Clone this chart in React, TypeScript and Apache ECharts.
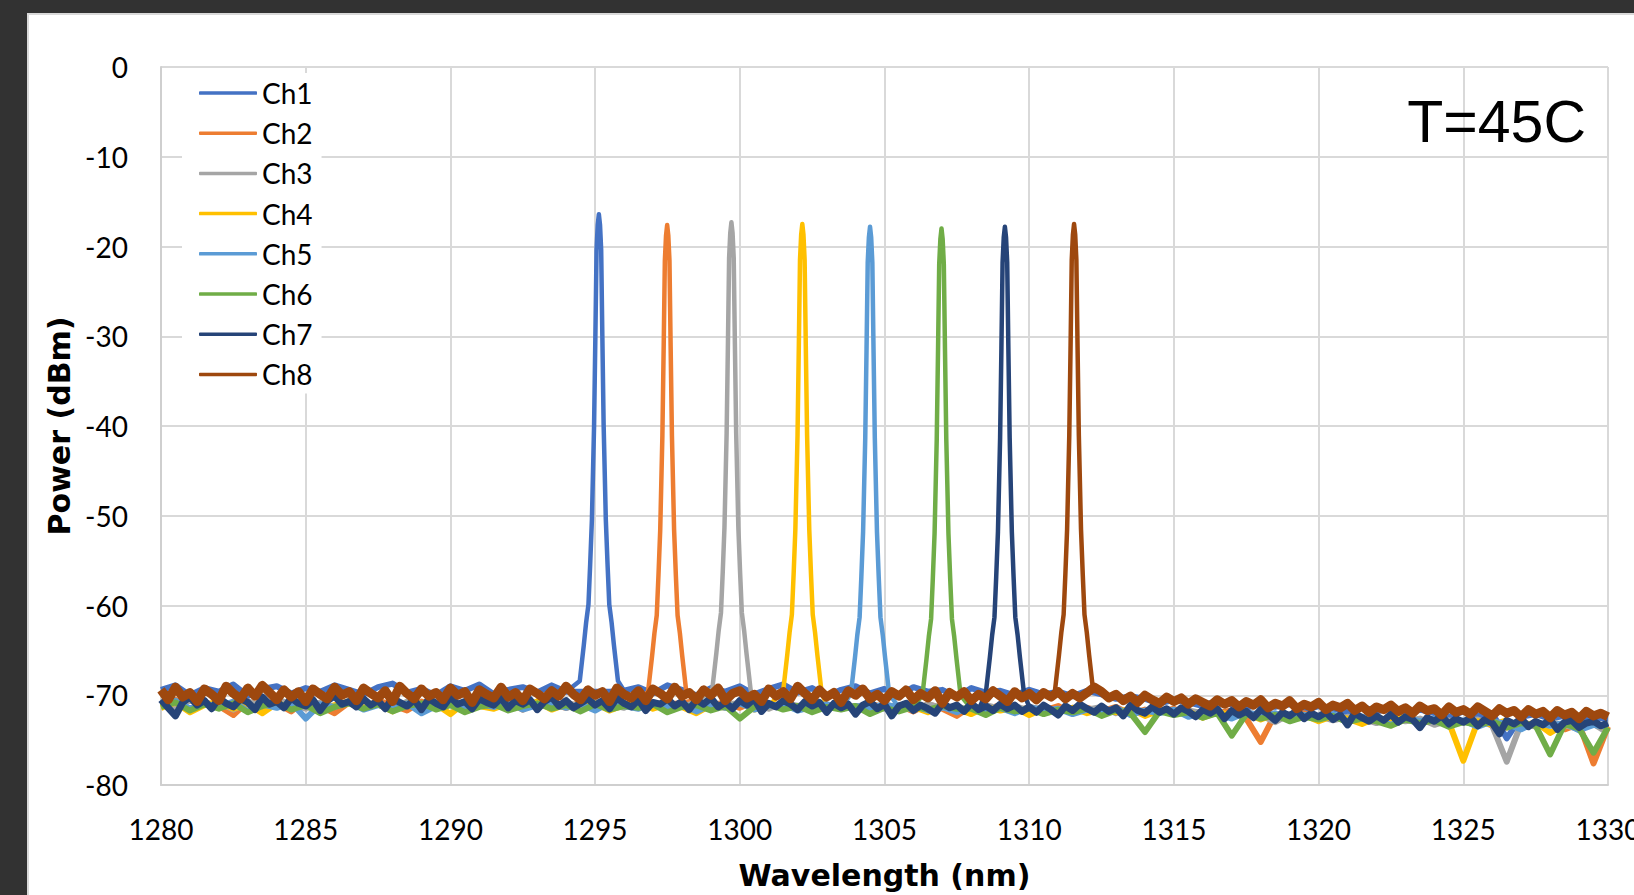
import React, { useEffect, useRef } from "react";
import * as echarts from "echarts";

// ---------- data ----------
const channelNames = ["Ch1", "Ch2", "Ch3", "Ch4", "Ch5", "Ch6", "Ch7", "Ch8"];
const channelColors = ["#4472C4", "#ED7D31", "#A5A5A5", "#FFC000", "#5B9BD5", "#70AD47", "#264478", "#9E480E"];

// peak centre wavelength (nm) and peak power (dBm) of each channel
const peakCenters = [1295.13, 1297.49, 1299.71, 1302.16, 1304.5, 1306.97, 1309.16, 1311.55];
const peakLevels = [-16.4, -17.6, -17.3, -17.5, -17.8, -18.0, -17.8, -17.5];

// shape of a peak: offset from centre (nm) and level relative to the peak (dB)
const peakOffsets = [-0.66, -0.52, -0.44, -0.36, -0.3, -0.24, -0.165, -0.12, -0.08, -0.04, 0, 0.04, 0.08, 0.12, 0.165, 0.24, 0.3, 0.36, 0.44, 0.52, 0.66];
const peakDrops = [-52, -48, -45.5, -43.5, -39, -34, -23.5, -13.5, -4, -1.2, 0, -1.2, -4, -13.5, -23.5, -34, -39, -43.5, -45.5, -48, -52];

// noise floor, sampled from 1280 nm with the step given per channel
const floorStart = 1280;
const floorSteps = [0.5, 0.5, 0.5, 0.5, 0.5, 0.5, 0.25, 0.25];

const floorCh1 = [
  -69.4, -68.9, -70.0, -69.2, -69.6, -68.8, -70.1, -69.3, -69.0, -69.8,
  -69.2, -69.6, -68.9, -69.4, -69.9, -69.1, -68.7, -69.7, -69.3, -70.0,
  -69.0, -69.5, -68.8, -69.9, -69.4, -69.1, -69.7, -68.9, -69.6, -69.6,
  -69.6, -69.6, -69.5, -69.1, -69.8, -68.9, -69.4, -70.0, -69.2, -69.6,
  -69.0, -69.9, -69.3, -68.8, -69.7, -69.2, -70.1, -69.4, -69.0, -69.8,
  -69.3, -70.0, -69.1, -69.6, -69.4, -70.2, -69.2, -69.7, -69.5, -70.0,
  -69.4, -69.9, -69.6, -70.1, -69.5, -69.9, -70.4, -70.1, -70.4, -70.9,
  -70.5, -70.8, -71.2, -70.6, -71.0, -71.4, -70.9, -71.3, -71.0, -71.7,
  -71.2, -71.5, -71.9, -71.3, -71.8, -71.5, -72.2, -71.6, -72.0, -72.4,
  -71.8, -72.3, -72.0, -74.8, -72.4, -72.1, -72.6, -72.3, -72.9, -72.5,
  -72.6,
];
const floorCh2 = [
  -71.0, -70.5, -71.6, -70.8, -71.2, -72.2, -70.7, -71.3, -70.9, -71.8,
  -70.6, -71.2, -72.0, -70.8, -71.4, -70.6, -71.1, -71.7, -70.7, -71.3,
  -70.9, -71.5, -70.6, -71.2, -70.8, -71.6, -70.7, -71.0, -71.4, -70.8,
  -71.2, -70.5, -71.0, -70.7, -70.9, -71.0, -70.9, -70.6, -71.1, -70.8,
  -71.4, -70.7, -71.2, -70.9, -71.6, -70.8, -71.3, -71.0, -71.5, -70.9,
  -71.4, -71.1, -71.8, -71.0, -71.5, -72.3, -71.2, -71.6, -71.1, -71.9,
  -71.3, -71.7, -71.2, -72.0, -71.4, -71.8, -71.3, -72.1, -71.6, -71.9,
  -71.5, -72.2, -71.8, -72.0, -71.7, -72.6, -75.2, -72.1, -72.5, -72.0,
  -72.7, -72.2, -72.9, -72.4, -72.8, -73.3, -72.6, -73.0, -72.7, -73.4,
  -72.9, -73.2, -72.8, -73.6, -73.0, -73.4, -73.1, -73.8, -73.2, -77.6,
  -73.5,
];
const floorCh3 = [
  -70.9, -71.4, -70.6, -71.1, -70.8, -71.6, -70.7, -71.2, -70.5, -71.0,
  -71.5, -70.8, -71.3, -70.6, -71.1, -70.9, -71.7, -70.7, -71.2, -70.8,
  -71.0, -71.4, -70.6, -71.1, -70.9, -71.5, -70.7, -71.2, -70.8, -71.3,
  -70.6, -71.0, -71.4, -70.7, -71.2, -70.9, -71.3, -70.8, -71.1, -71.0,
  -70.9, -70.9, -71.5, -70.8, -71.2, -70.9, -71.6, -71.0, -71.3, -70.9,
  -71.5, -71.1, -71.7, -71.0, -71.4, -71.2, -71.8, -71.1, -71.5, -71.2,
  -71.7, -71.3, -71.9, -71.4, -71.6, -71.3, -72.0, -71.5, -71.8, -71.6,
  -72.1, -71.7, -72.0, -71.8, -72.4, -71.9, -72.2, -73.0, -72.1, -72.5,
  -72.3, -72.8, -72.4, -72.6, -73.1, -72.5, -72.9, -72.6, -73.3, -72.8,
  -73.0, -72.7, -73.4, -77.4, -73.1, -73.5, -73.0, -73.3, -73.8, -73.2,
  -74.2,
];
const floorCh4 = [
  -71.4, -70.8, -71.9, -71.1, -70.7, -71.5, -71.0, -72.0, -70.9, -71.3,
  -70.8, -71.6, -71.1, -70.7, -71.4, -71.0, -71.8, -70.9, -71.3, -71.0,
  -72.1, -70.8, -71.2, -71.5, -70.9, -71.3, -70.7, -71.6, -71.0, -71.4,
  -70.9, -71.7, -71.1, -70.8, -71.5, -71.0, -71.3, -72.0, -71.1, -71.4,
  -70.9, -71.6, -71.2, -71.0, -71.3, -70.9, -71.2, -71.5, -71.2, -71.8,
  -71.0, -71.6, -71.3, -71.9, -71.2, -71.5, -72.1, -71.3, -71.7, -71.4,
  -72.2, -71.5, -71.8, -71.4, -72.0, -71.6, -71.9, -71.5, -72.3, -71.7,
  -72.0, -71.8, -72.5, -71.9, -72.2, -72.0, -72.7, -72.1, -72.4, -72.2,
  -72.9, -72.3, -72.6, -73.2, -72.5, -72.8, -72.4, -73.1, -72.7, -73.0,
  -77.3, -72.9, -73.3, -72.8, -73.5, -73.0, -74.2, -73.2, -73.6, -73.1,
  -73.8,
];
const floorCh5 = [
  -71.1, -70.6, -71.5, -70.9, -71.3, -70.7, -71.8, -71.0, -71.4, -70.8,
  -72.6, -71.0, -71.3, -70.8, -71.6, -71.1, -71.4, -70.9, -72.0, -71.2,
  -70.8, -71.5, -71.0, -71.3, -70.7, -71.6, -71.1, -70.9, -71.4, -71.0,
  -71.7, -70.8, -71.2, -71.5, -70.9, -71.3, -71.0, -71.8, -71.1, -71.4,
  -70.9, -71.6, -71.2, -71.0, -71.7, -71.3, -71.0, -71.5, -71.2, -71.4,
  -71.0, -71.4, -71.1, -71.7, -71.3, -71.9, -71.2, -71.6, -71.4, -72.0,
  -71.3, -71.7, -71.5, -72.1, -71.6, -71.9, -71.4, -72.2, -71.7, -72.0,
  -71.6, -72.4, -71.9, -72.1, -72.6, -71.9, -72.3, -72.0, -72.8, -72.2,
  -72.5, -72.1, -72.9, -72.4, -72.7, -73.3, -72.5, -72.9, -72.6, -73.2,
  -72.8, -73.5, -72.9, -73.2, -73.8, -73.0, -73.4, -73.1, -73.9, -73.3,
  -73.6,
];
const floorCh6 = [
  -71.3, -70.8, -71.7, -71.0, -71.5, -70.9, -71.9, -71.2, -70.8, -71.6,
  -71.1, -72.0, -71.3, -70.9, -71.5, -71.0, -71.8, -71.2, -70.9, -71.6,
  -71.1, -71.9, -71.3, -71.0, -71.7, -71.2, -70.9, -71.5, -71.1, -71.8,
  -71.0, -71.6, -71.2, -71.4, -71.0, -71.9, -71.3, -71.1, -71.7, -71.2,
  -72.6, -71.3, -71.0, -71.6, -71.2, -71.9, -71.3, -71.6, -71.2, -72.1,
  -71.4, -71.8, -71.3, -71.6, -71.2, -71.5, -71.5, -72.2, -71.4, -71.8,
  -71.5, -72.1, -71.6, -71.9, -71.5, -72.3, -71.7, -72.0, -74.1, -71.8,
  -72.2, -71.9, -72.5, -72.0, -74.5, -72.1, -72.6, -72.2, -72.9, -72.4,
  -72.7, -72.3, -73.0, -72.6, -72.9, -73.4, -72.7, -73.1, -72.8, -73.5,
  -73.0, -73.3, -72.9, -73.6, -73.1, -73.4, -76.6, -73.2, -73.7, -76.4,
  -73.6,
];
// Ch7 and Ch8 every 0.25 nm (201 values each)
const floorCh7 = [
  -70.5, -71.4, -72.3, -70.8, -70.2, -71.1, -70.6, -71.5, -70.3, -70.9,
  -71.3, -70.4, -70.8, -71.6, -70.2, -71.0, -70.7, -71.4, -70.3, -70.9,
  -71.2, -70.5, -71.7, -70.6, -70.1, -71.0, -70.7, -71.3, -70.4, -71.1,
  -70.6, -71.5, -70.3, -70.8, -71.2, -70.5, -71.6, -70.4, -70.9, -71.3,
  -70.2, -71.0, -70.7, -71.5, -70.4, -70.8, -71.1, -70.3, -71.4, -70.6,
  -71.0, -70.5, -71.6, -70.7, -70.2, -71.2, -70.6, -71.4, -70.9, -70.4,
  -71.1, -70.6, -71.5, -70.3, -70.9, -71.3, -70.5, -71.7, -70.8, -71.0,
  -70.4, -71.2, -70.7, -71.6, -70.5, -71.0, -70.3, -71.3, -70.8, -71.5,
  -70.6, -71.1, -70.4, -71.8, -70.9, -71.3, -70.6, -71.0, -71.6, -70.7,
  -71.2, -70.8, -71.9, -70.9, -71.4, -71.0, -72.1, -71.1, -70.7, -71.5,
  -71.0, -72.3, -71.2, -70.9, -71.7, -71.1, -71.5, -72.0, -70.9, -71.4,
  -71.1, -71.8, -70.9, -71.6, -71.2, -71.7, -71.0, -71.5, -71.1, -71.8,
  -71.3, -71.9, -71.1, -71.6, -72.2, -71.2, -71.7, -71.0, -71.5, -71.9,
  -71.2, -71.8, -71.4, -72.3, -71.1, -71.7, -72.0, -71.3, -71.9, -71.5,
  -72.1, -71.4, -71.8, -72.4, -71.6, -72.0, -71.5, -72.6, -71.7, -72.2,
  -71.8, -72.5, -71.6, -72.1, -72.8, -71.9, -72.3, -71.7, -72.6, -72.0,
  -72.4, -71.9, -72.7, -72.2, -73.3, -72.0, -72.5, -72.9, -72.3, -72.8,
  -72.1, -73.0, -72.4, -72.7, -73.6, -72.5, -72.9, -72.3, -73.2, -72.6,
  -73.0, -72.5, -73.4, -72.7, -73.1, -74.3, -72.8, -73.2, -72.6, -73.5,
  -72.9, -73.3, -72.7, -73.8, -73.0, -72.8, -73.6, -73.1, -72.9, -73.4,
  -73.1,
];
const floorCh8 = [
  -69.4, -70.5, -69.1, -70.2, -69.7, -70.7, -69.3, -69.9, -70.6, -69.0,
  -69.8, -70.4, -69.2, -70.1, -68.9, -69.7, -70.5, -69.4, -70.2, -69.6,
  -70.7, -69.3, -69.9, -70.4, -69.1, -70.0, -69.6, -70.6, -69.2, -69.8,
  -70.3, -69.5, -70.7, -69.0, -69.8, -70.4, -69.3, -70.1, -69.7, -70.5,
  -69.2, -70.0, -69.6, -70.8, -69.4, -69.9, -70.3, -69.1, -70.2, -69.7,
  -70.6, -69.3, -69.8, -70.4, -69.5, -70.1, -69.0, -69.9, -70.5, -69.4,
  -70.0, -69.6, -70.7, -69.2, -69.9, -70.3, -69.5, -70.6, -69.3, -69.8,
  -70.4, -69.1, -70.1, -69.7, -70.5, -69.4, -70.0, -69.2, -70.6, -69.8,
  -69.5, -70.3, -69.9, -70.7, -69.3, -70.1, -69.6, -70.4, -69.0, -69.8,
  -70.5, -69.4, -70.2, -69.7, -70.8, -69.5, -70.0, -69.3, -70.4, -69.9,
  -70.6, -69.6, -70.1, -69.4, -70.5, -69.8, -70.3, -69.5, -70.9, -69.7,
  -70.2, -69.6, -70.6, -69.9, -70.4, -69.5, -70.1, -70.7, -69.6, -70.3,
  -69.8, -70.5, -69.7, -70.2, -69.6, -70.4, -69.8, -70.3, -69.7, -69.1,
  -69.6, -70.3, -69.9, -70.6, -70.1, -70.8, -70.0, -70.5, -70.9, -70.2,
  -70.7, -70.3, -71.0, -70.4, -70.8, -71.2, -70.5, -71.0, -70.6, -71.3,
  -70.7, -71.1, -70.5, -71.4, -70.9, -71.2, -70.6, -71.5, -71.0, -71.3,
  -70.8, -71.6, -71.1, -71.4, -70.9, -71.7, -71.2, -71.9, -71.3, -71.6,
  -71.1, -71.8, -71.4, -72.0, -71.2, -71.7, -71.5, -72.2, -71.3, -71.9,
  -71.6, -72.1, -71.3, -71.8, -72.3, -71.5, -72.0, -71.7, -72.4, -71.6,
  -72.1, -71.8, -72.5, -71.7, -72.2, -71.9, -72.6, -71.8, -72.3, -72.0,
  -72.4,
];
const floors = [floorCh1, floorCh2, floorCh3, floorCh4, floorCh5, floorCh6, floorCh7, floorCh8];

// axes
const xMin = 1280;
const xMax = 1330;
const xInterval = 5;
const yMin = -80;
const yMax = 0;
const yInterval = 10;

const annotation = "T=45C";
const xTitle = "Wavelength (nm)";
const yTitle = "Power (dBm)";

// ---------- build series ----------
function buildFloor(k: number): number[][] {
  const step = floorSteps[k];
  return floors[k].map((v, i) => [floorStart + i * step, v]);
}

function buildPeak(k: number): number[][] {
  const c = peakCenters[k];
  const fl = buildFloor(k);
  let left = fl[0];
  let right = fl[fl.length - 1];
  for (const p of fl) {
    if (p[0] <= c - 0.72) left = p;
  }
  for (let i = fl.length - 1; i >= 0; i--) {
    if (fl[i][0] >= c + 0.72) right = fl[i];
  }
  const pts: number[][] = [left];
  peakOffsets.forEach((o, j) => pts.push([c + o, peakLevels[k] + peakDrops[j]]));
  pts.push(right);
  return pts;
}

const floorWidths = [6, 6, 6, 6, 6, 6, 7, 9];

export default function App() {
  const ref = useRef<HTMLDivElement>(null);

  useEffect(() => {
    if (!ref.current) return;
    const chart = echarts.init(ref.current, undefined, { renderer: "svg" });
    const series: any[] = [];
    channelNames.forEach((name, k) => {
      const common = {
        name,
        type: "line",
        symbol: "none",
        showSymbol: false,
        color: channelColors[k],
        itemStyle: { color: channelColors[k] },
        emphasis: { disabled: true },
      };
      series.push({
        ...common,
        data: buildFloor(k),
        lineStyle: { color: channelColors[k], width: floorWidths[k], join: "round" },
      });
      series.push({
        ...common,
        data: buildPeak(k),
        lineStyle: { color: channelColors[k], width: 4.5, cap: "round", join: "round" },
      });
    });

    const option: any = {
      animation: false,
      backgroundColor: "transparent",
      textStyle: { fontFamily: "Lato" },
      grid: { left: 161, right: 26, top: 67, bottom: 110, containLabel: false, outerBoundsMode: "none" },
      xAxis: {
        type: "value",
        min: xMin,
        max: xMax,
        interval: xInterval,
        name: xTitle,
        nameLocation: "middle",
        nameGap: 75,
        nameTextStyle: { fontFamily: "DejaVu Sans", fontWeight: "bold", fontSize: 30, color: "#000" },
        axisLine: { show: true, onZero: false, lineStyle: { color: "#cfcfcf", width: 2 } },
        axisTick: { show: false },
        axisLabel: { fontFamily: "Lato", fontSize: 28, color: "#000", margin: 30, formatter: (v: number) => String(v) },
        splitLine: { show: true, lineStyle: { color: "#d9d9d9", width: 2 } },
      },
      yAxis: {
        type: "value",
        min: yMin,
        max: yMax,
        interval: yInterval,
        name: yTitle,
        nameLocation: "middle",
        nameGap: 86,
        nameTextStyle: { fontFamily: "DejaVu Sans", fontWeight: "bold", fontSize: 30, color: "#000" },
        axisLine: { show: true, onZero: false, lineStyle: { color: "#cfcfcf", width: 2 } },
        axisTick: { show: false },
        axisLabel: { fontFamily: "Lato", fontSize: 28, color: "#000", margin: 33 },
        splitLine: { show: true, lineStyle: { color: "#d9d9d9", width: 2 } },
      },
      legend: {
        orient: "vertical",
        left: 182,
        top: 73,
        padding: [6, 9, 5, 17],
        icon: "roundRect",
        itemWidth: 58,
        itemHeight: 3.5,
        itemGap: 12.2,
        backgroundColor: "#ffffff",
        textStyle: { fontFamily: "Lato", fontSize: 28, color: "#000", lineHeight: 28 },
        data: channelNames,
      },
      graphic: [
        {
          type: "text",
          x: 1586,
          y: 122,
          z: 10,
          style: {
            text: annotation,
            fontFamily: "Liberation Sans",
            fontSize: 59,
            fill: "#000",
            align: "right",
            verticalAlign: "middle",
          },
        },
      ],
      series,
    };
    chart.setOption(option);
    return () => chart.dispose();
  }, []);

  return (
    <div style={{ position: "fixed", left: 0, top: 0, width: 1634, height: 895, background: "#323232", overflow: "hidden" }}>
      <div
        style={{
          position: "absolute",
          left: 27,
          top: 13,
          right: 0,
          bottom: 0,
          background: "#ffffff",
          borderLeft: "2px solid #d9d9d9",
          borderTop: "2px solid #d9d9d9",
        }}
      />
      <div ref={ref} style={{ position: "absolute", left: 0, top: 0, width: 1634, height: 895 }} />
    </div>
  );
}
